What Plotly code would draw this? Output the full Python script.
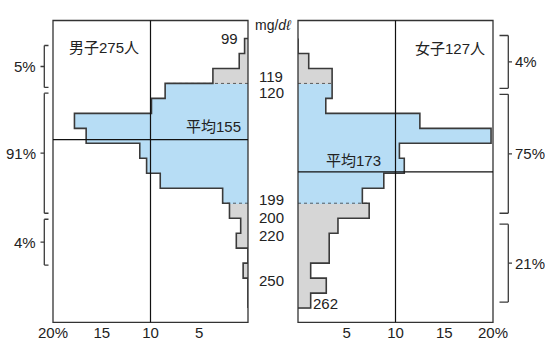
import plotly.graph_objects as go

# ---- data ----
bin_lo = [90, 100, 110, 120, 130, 140, 150, 160, 170, 180, 190, 200, 210, 220, 230, 240, 250, 260]
male_pct = [0.35, 0.9, 3.6, 8.5, 9.9, 17.8, 16.6, 11.1, 10.4, 9.0, 2.6, 1.9, 0.75, 1.2, 0.0, 0.5, 0.0, 0.0]
female_pct = [0.0, 1.1, 3.5, 3.5, 2.85, 12.5, 19.8, 10.4, 10.9, 8.8, 6.6, 7.3, 4.1, 3.2, 3.2, 1.3, 2.9, 1.3]
normal_range = (120, 200)
mean_line = [157.5, 179.1]            # drawn position of the mean line (mg/dl scale)
mean_text = ["平均155", "平均173"]
group_text = ["男子275人", "女子127人"]
male_groups = ["5%", "91%", "4%"]
male_group_span = [(94.7, 122.7), (126.5, 206.7), (210.7, 241.3)]
female_groups = ["4%", "75%", "21%"]
female_group_span = [(88.0, 123.3), (127.3, 206.7), (214.0, 266.0)]
tick_vals_left = [20, 15, 10, 5]
tick_text_left = ["20%", "15", "10", "5"]
tick_vals_right = [5, 10, 15, 20]
tick_text_right = ["5", "10", "15", "20%"]
mid_labels = ["119", "120", "199", "200", "220", "250"]
mid_label_at = [120, 120, 200, 200, 220, 250]
mid_label_shift = [7, -9, 4, -14, -2, -2]

BIN = 10
BLUE = "#b7ddf5"
GRAY = "#d6d6d6"
EDGE = "#3a3a3a"
TXT = "#222222"
FONT = "Liberation Sans, Arial, Noto Sans CJK JP"

W, H = 545, 342
left_dom = [53 / W, 248 / W]
right_dom = [298 / W, 493 / W]
y_dom = [1 - 322.3 / H, 1 - 20.5 / H]


def colors(vals):
    return [BLUE if normal_range[0] <= lo < normal_range[1] else GRAY for lo in bin_lo]


def outline(vals):
    xs, ys = [0], [bin_lo[0]]
    for lo, v in zip(bin_lo, vals):
        xs += [v, v]
        ys += [lo, lo + BIN]
    xs.append(0)
    ys.append(bin_lo[-1] + BIN)
    return xs, ys


fig = go.Figure()
centers = [lo + BIN / 2 for lo in bin_lo]
for vals, xa in ((male_pct, "x"), (female_pct, "x2")):
    fig.add_trace(go.Bar(x=vals, y=centers, orientation="h", width=BIN,
                         marker=dict(color=colors(vals), line=dict(width=0)),
                         xaxis=xa, yaxis="y", hoverinfo="skip", showlegend=False))
    # dotted boundaries between grey and blue areas
    for b in normal_range:
        i = bin_lo.index(b)
        w = max(vals[i - 1], vals[i])
        fig.add_trace(go.Scatter(x=[0, w], y=[b, b], mode="lines", xaxis=xa, yaxis="y",
                                 line=dict(color=EDGE, width=0.8, dash="dot"),
                                 hoverinfo="skip", showlegend=False))
    ox, oy = outline(vals)
    fig.add_trace(go.Scatter(x=ox, y=oy, mode="lines", xaxis=xa, yaxis="y",
                             line=dict(color=EDGE, width=1.6), hoverinfo="skip",
                             showlegend=False))

fig.update_layout(
    width=W, height=H, margin=dict(l=0, r=0, t=0, b=0, pad=0, autoexpand=False),
    autosize=False, showlegend=False,
    paper_bgcolor="white", plot_bgcolor="white",
    bargap=0, barmode="overlay",
    font=dict(family=FONT, size=15, color=TXT),
    xaxis=dict(domain=left_dom, range=[20, 0], anchor="y", showgrid=False, zeroline=False,
               automargin=False,
               tickmode="array", tickvals=tick_vals_left, ticktext=tick_text_left,
               ticks="", tickfont=dict(size=15, color=TXT)),
    xaxis2=dict(domain=right_dom, range=[0, 20], anchor="y", showgrid=False, zeroline=False,
                automargin=False,
                tickmode="array", tickvals=tick_vals_right, ticktext=tick_text_right,
                ticks="", tickfont=dict(size=15, color=TXT)),
    yaxis=dict(domain=y_dom, range=[279.5, 78], anchor="x", showgrid=False, zeroline=False,
               automargin=False, showticklabels=False, ticks=""),
)

shapes = []
for xa in ("x", "x2"):
    shapes.append(dict(type="rect", xref=f"{xa} domain", yref="y domain", x0=0, x1=1, y0=0, y1=1,
                       line=dict(color="#333333", width=1.3), layer="above"))
    shapes.append(dict(type="line", xref=xa, yref="y domain", x0=10, x1=10, y0=0, y1=1,
                       line=dict(color="#111111", width=1.2), layer="above"))
for xa, m in zip(("x", "x2"), mean_line):
    shapes.append(dict(type="line", xref=f"{xa} domain", yref="y", x0=0, x1=1, y0=m, y1=m,
                       line=dict(color="#111111", width=1.3), layer="above"))

annotations = []


def bracket(xv, xtick, xmid, span):
    y0, y1 = span
    ym = (y0 + y1) / 2
    st = dict(color=EDGE, width=1.3)
    return [
        dict(type="line", xref="paper", yref="y", x0=xv / W, x1=xv / W, y0=y0, y1=y1, line=st),
        dict(type="line", xref="paper", yref="y", x0=xv / W, x1=xtick / W, y0=y0, y1=y0, line=st),
        dict(type="line", xref="paper", yref="y", x0=xv / W, x1=xtick / W, y0=y1, y1=y1, line=st),
        dict(type="line", xref="paper", yref="y", x0=xv / W, x1=xmid / W, y0=ym, y1=ym, line=st),
    ]


for t, span in zip(male_groups, male_group_span):
    shapes += bracket(44.3, 48.5, 40.5, span)
    annotations.append(dict(text=t, xref="paper", yref="y", x=38 / W, y=sum(span) / 2,
                            xanchor="right", yanchor="middle", showarrow=False,
                            font=dict(size=15)))
for t, span in zip(female_groups, female_group_span):
    shapes += bracket(508.3, 499.5, 512.0, span)
    annotations.append(dict(text=t, xref="paper", yref="y", x=513 / W, y=sum(span) / 2,
                            xanchor="left", yanchor="middle", showarrow=False,
                            font=dict(size=15)))

annotations.append(dict(text=group_text[0], xref="x", yref="y", x=14.8, y=95.7,
                        showarrow=False, font=dict(size=15)))
annotations.append(dict(text=group_text[1], xref="x2", yref="y", x=15.6, y=97.0,
                        showarrow=False, font=dict(size=15)))
annotations.append(dict(text=mean_text[0], xref="x", yref="y", x=3.5, y=mean_line[0],
                        yshift=12.6, showarrow=False, font=dict(size=15)))
annotations.append(dict(text=mean_text[1], xref="x2", yref="y", x=5.7, y=mean_line[1],
                        yshift=11, showarrow=False, font=dict(size=15)))
annotations.append(dict(text="99", xref="x", yref="y", x=1.9, y=bin_lo[0],
                        showarrow=False, font=dict(size=15)))
annotations.append(dict(text="262", xref="x2", yref="y", x=2.8, y=bin_lo[-1] + BIN,
                        yshift=5, showarrow=False, font=dict(size=15)))
for t, yv, s in zip(mid_labels, mid_label_at, mid_label_shift):
    annotations.append(dict(text=t, xref="paper", yref="y", x=271 / W, y=yv, yshift=s,
                            showarrow=False, font=dict(size=15)))
annotations.append(dict(text="mg/<i>dℓ</i>", xref="paper", yref="paper", x=273 / W,
                        y=1 - 15 / H, showarrow=False, font=dict(size=14)))

fig.update_layout(shapes=shapes, annotations=annotations)
fig.write_html("out.html", config={"responsive": False, "displayModeBar": False},
               post_script="document.body.style.margin='0';document.body.style.padding='0';")
